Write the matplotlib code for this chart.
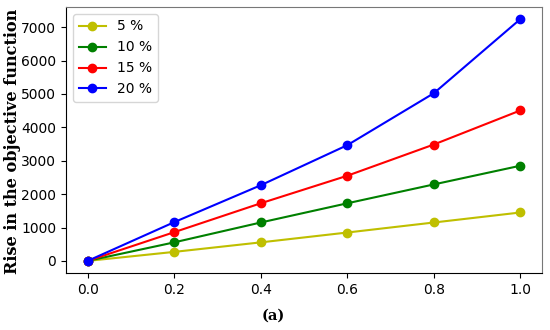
import matplotlib
matplotlib.use("Agg")
import matplotlib.pyplot as plt

x = [0.0, 0.2, 0.4, 0.6, 0.8, 1.0]
s5 = [0, 270, 555, 850, 1150, 1450]
s10 = [0, 555, 1150, 1725, 2290, 2850]
s15 = [0, 860, 1725, 2550, 3485, 4505]
s20 = [0, 1160, 2265, 3465, 5020, 7240]
labels = ["5 %", "10 %", "15 %", "20 %"]
colors = ["y", "g", "r", "b"]

fig = plt.figure(figsize=(5.5, 3.3), dpi=100)
ax = fig.add_axes([66/550, 1-273/330, 476/550, 266/330])
for ys, lab, c in zip([s5, s10, s15, s20], labels, colors):
    ax.plot(x, ys, marker="o", color=c, label=lab, markersize=6, linewidth=1.5)

ax.set_yticks([0, 1000, 2000, 3000, 4000, 5000, 6000, 7000])
ax.tick_params(labelsize=10)
for side in ["top", "right"]:
    ax.spines[side].set_color("#777777")
ax.legend(loc="upper left", fontsize=10)
fig.text(13/550, 1-141/330, "Rise in the objective function", family="DejaVu Serif",
         fontweight="bold", fontsize=11.6, rotation=90, ha="center", va="center")
fig.text(273/550, 1-316/330, "(a)", family="DejaVu Serif", fontweight="bold",
         fontsize=10.5, ha="center", va="center")
fig.savefig("out.png", dpi=100)
